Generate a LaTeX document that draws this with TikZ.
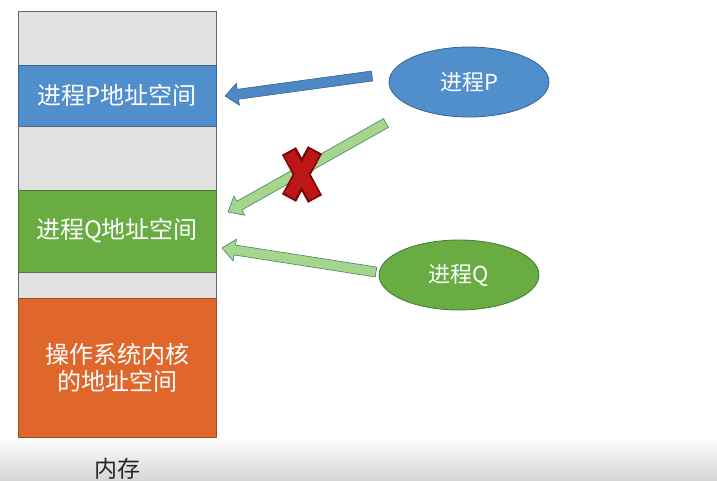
\documentclass[tikz,border=0pt]{standalone}
\usepackage{fontspec}
\newfontfamily\cjkfont{Noto Sans CJK SC}
\usetikzlibrary{calc,shapes.geometric}

\definecolor{memgray}{RGB}{226,224,225}
\definecolor{memblue}{RGB}{80,142,204}
\definecolor{memgreen}{RGB}{104,172,66}
\definecolor{memorange}{RGB}{224,103,44}
\definecolor{edgeblue}{RGB}{58,98,140}
\definecolor{edgegreen}{RGB}{72,120,60}
\definecolor{edgeorange}{RGB}{150,80,40}
\definecolor{edgegray}{RGB}{90,105,120}
\definecolor{arrblue}{RGB}{76,136,198}
\definecolor{arrgreen}{RGB}{166,214,140}
\definecolor{arredgegreen}{RGB}{70,128,110}
\definecolor{crossred}{RGB}{188,22,22}
\definecolor{crossdark}{RGB}{120,8,8}

% block arrow from tail coordinate #1 to tip coordinate #2, style #3
\newcommand\blkarrow[3]{%
  \path ($(#2)!13pt!(#1)$) coordinate (hb);
  \filldraw[#3, line join=miter]
    ($(#1)!5pt!90:(#2)$) -- ($(hb)!5pt!90:(#2)$) -- ($(hb)!11pt!90:(#2)$)
    -- (#2) -- ($(hb)!11pt!-90:(#2)$) -- ($(hb)!5pt!-90:(#2)$)
    -- ($(#1)!5pt!-90:(#2)$) -- cycle;
}

\tikzset{
  seg/.style={rectangle, minimum width=198pt, outer sep=0pt, inner sep=0pt,
    anchor=north west, line width=0.8pt, text=white,
    font=\cjkfont\fontsize{24}{27}\selectfont, align=center},
  proc/.style={ellipse, minimum width=160pt, minimum height=70pt, inner sep=0pt,
    line width=0.8pt, text=white, font=\cjkfont\fontsize{22}{26}\selectfont},
  bluearrow/.style={fill=arrblue, draw=edgeblue, line width=0.6pt},
  greenarrow/.style={fill=arrgreen, draw=arredgegreen, line width=0.6pt},
}

\begin{document}
\begin{tikzpicture}[x=1pt, y=-1pt]
  \useasboundingbox (0,0) rectangle (717,480);
  \fill[white] (0,0) rectangle (717,480);
  % screen band at the bottom
  \shade[top color=white, bottom color=black!16] (0,436) rectangle (717,480);

  % memory column
  \node[seg, fill=memgray, draw=edgegray, minimum height=54pt] (free1) at (18,11) {};
  \node[seg, fill=memblue, draw=edgeblue, minimum height=61pt] (memP) at (18,65) {进程P地址空间};
  \node[seg, fill=memgray, draw=edgegray, minimum height=64pt] (free2) at (18,126) {};
  \node[seg, fill=memgreen, draw=edgegreen, minimum height=82pt] (memQ) at (18,190) {进程Q地址空间};
  \node[seg, fill=memgray, draw=edgegray, minimum height=26pt] (free3) at (18,272) {};
  \node[seg, fill=memorange, draw=edgeorange, minimum height=139pt] (kernel) at (18,298)
    {操作系统内核\\的地址空间};
  \node[text=black!85, font=\cjkfont\fontsize{23}{27}\selectfont] (memlabel) at (117,469) {内存};

  % processes
  \node[proc, fill=memblue, draw=edgeblue] (procP) at (469,82) {进程P};
  \node[proc, fill=memgreen, draw=edgegreen] (procQ) at (459,275) {进程Q};

  % accesses
  \coordinate (tailP) at (372,76);
  \coordinate (tipP) at (225,96);
  \coordinate (tailX) at (386,123);
  \coordinate (tipX) at (228,212);
  \coordinate (tailQ) at (376,272);
  \coordinate (tipQ) at (222,248);
  \blkarrow{tailP}{tipP}{bluearrow}
  \blkarrow{tailX}{tipX}{greenarrow}
  \blkarrow{tailQ}{tipQ}{greenarrow}

  % forbidden access mark
  \coordinate (cross) at (302,175);
  \draw[crossdark, line width=16pt]
    ($(cross)+(-13,-24)$) -- ($(cross)+(13,24)$)
    ($(cross)+(13,-25)$) -- ($(cross)+(-13,23)$);
  \draw[crossred, line width=12pt]
    ($(cross)+(-12.5,-22)$) -- ($(cross)+(12.5,22)$)
    ($(cross)+(12.5,-23)$) -- ($(cross)+(-12.5,21)$);
\end{tikzpicture}
\end{document}
